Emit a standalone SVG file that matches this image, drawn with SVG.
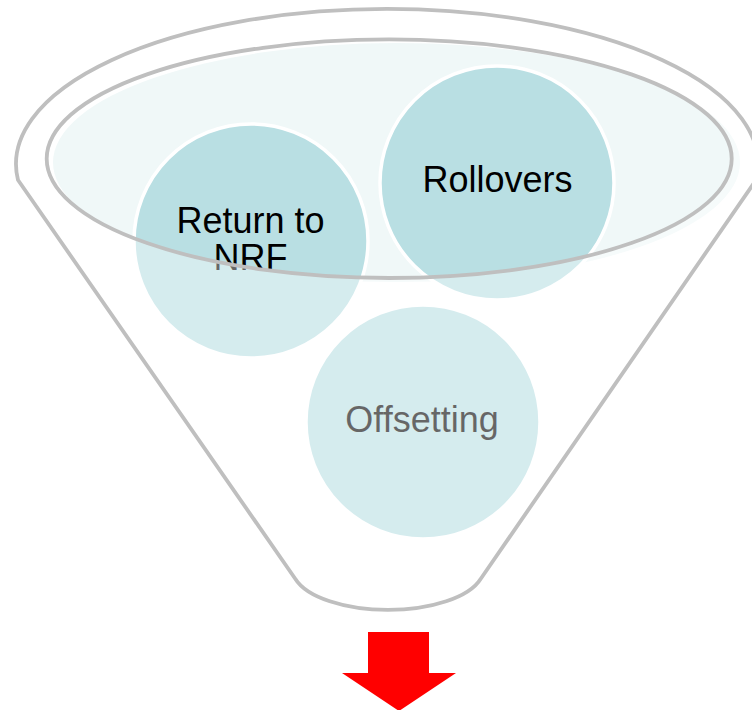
<svg xmlns="http://www.w3.org/2000/svg" width="752" height="710" viewBox="0 0 752 710">
  <style>
    .rim { fill: none; stroke: #bfbfbf; stroke-width: 3.8; stroke-linejoin: round; }
    .ball { fill: #b9dfe3; stroke: #ffffff; stroke-width: 3.5; }
    .lbl { font-family: "Liberation Sans", Arial, sans-serif; font-size: 36px; fill: #000000; text-anchor: middle; }
  </style>
  <rect width="752" height="710" fill="#ffffff"/>
  <g id="funnel-liquid">
    <ellipse cx="396.5" cy="162.5" rx="343.5" ry="119.5" fill="#f0f8f8"/>
  </g>
  <g id="node-return">
    <circle class="ball" cx="251" cy="241" r="117"/>
    <text class="lbl" x="250.5" y="233">Return to</text>
    <text class="lbl" x="250.5" y="270">NRF</text>
  </g>
  <g id="node-rollovers">
    <circle class="ball" cx="497" cy="183" r="117"/>
    <text class="lbl" x="497.5" y="192">Rollovers</text>
  </g>
  <g id="node-offsetting">
    <circle class="ball" cx="423" cy="422" r="117"/>
    <text class="lbl" x="422" y="432">Offsetting</text>
  </g>
  <g id="funnel-body">
    <path fill="#ffffff" fill-opacity="0.4" fill-rule="evenodd" d="M 18,180 A 371 155 0 1 1 756,180 L 480.6,579 A 96 42 0 0 1 295.4,579 Z M 46.7,158.7 A 342.5 119.3 0 1 0 731.7,158.7 A 342.5 119.3 0 1 0 46.7,158.7 Z"/>
    <ellipse class="rim" cx="389.2" cy="158.7" rx="342.5" ry="119.3"/>
    <path class="rim" d="M 18,180 A 371 155 0 1 1 756,180 L 480.6,579 A 96 42 0 0 1 295.4,579 Z"/>
  </g>
  <g id="connectors">
    <polygon id="arrow-down" fill="#ff0000" points="368,632 429,632 429,673 456,673 399,711 342,673 368,673"/>
  </g>
</svg>
